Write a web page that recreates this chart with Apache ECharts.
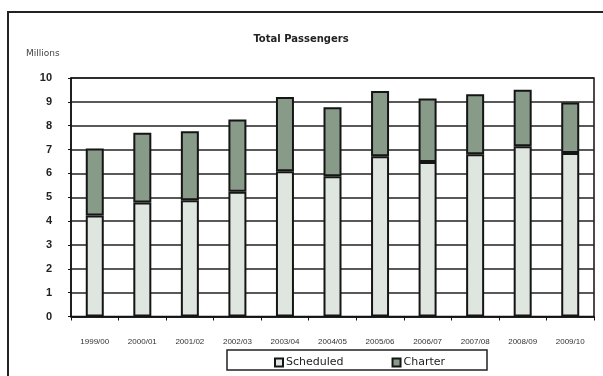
<!DOCTYPE html>
<html>
<head>
<meta charset="utf-8">
<script src="https://cdn.jsdelivr.net/npm/echarts@6/dist/echarts.min.js"></script>
<style>html,body{margin:0;padding:0;background:#fff}#c{width:603px;height:376px}</style>
</head>
<body>
<div id="c"></div>
<script>
const categories = ['1999/00','2000/01','2001/02','2002/03','2003/04','2004/05','2005/06','2006/07','2007/08','2008/09','2009/10'];
const scheduled = [4.24, 4.78, 4.87, 5.23, 6.09, 5.88, 6.72, 6.48, 6.80, 7.14, 6.86];
const charter = [2.80, 2.92, 2.90, 3.03, 3.11, 2.89, 2.74, 2.66, 2.52, 2.37, 2.11];
const yTicks = [0,1,2,3,4,5,6,7,8,9,10];

const chart = echarts.init(document.getElementById('c'), null, {renderer:'canvas'});
const font = '"Liberation Sans", Arial, sans-serif';
const wide = '"DejaVu Sans", sans-serif';
chart.setOption({
  animation: false,
  backgroundColor: '#fff',
  title: {
    text: 'Total Passengers', left: 296, top: 29, textAlign: 'center',
    textStyle: {fontFamily: wide, fontSize: 10, fontWeight: 'bold', color: '#222'}
  },
  legend: {
    left: 269, top: 352, itemWidth: 8, itemHeight: 8, itemGap: 48, icon: 'rect',
    textStyle: {fontFamily: wide, fontSize: 11, color: '#222', padding:[0,0,0,-2]},
    data: ['Scheduled','Charter']
  },
  grid: {left: 71, top: 78, right: 9, bottom: 59.5, show: true, borderColor: '#111', borderWidth: 1.5, containLabel: false},
  xAxis: {
    type: 'category', data: categories,
    axisLine: {show: true, lineStyle: {color: '#111', width: 1.5}},
    axisTick: {show: true, length: 4, lineStyle: {color: '#111'}},
    axisLabel: {fontFamily: font, fontSize: 8, color: '#333', margin: 21}
  },
  yAxis: {
    type: 'value', min: yTicks[0], max: yTicks[yTicks.length-1], interval: 1,
    axisLine: {show: true, lineStyle: {color: '#111', width: 1.5}},
    axisTick: {show: true, length: 3, lineStyle: {color: '#111'}},
    splitLine: {lineStyle: {color: '#222', width: 1.5}},
    axisLabel: {fontFamily: font, fontSize: 11, fontWeight: 'bold', color: '#222', margin: 19}
  },
  series: [
    {name: 'Scheduled', type: 'bar', stack: 't', data: scheduled, barWidth: 18,
     itemStyle: {color: '#dfe5df', borderColor: '#151515', borderWidth: 2}},
    {name: 'Charter', type: 'bar', stack: 't', data: charter, barWidth: 18,
     itemStyle: {color: '#889a88', borderColor: '#151515', borderWidth: 2}}
  ],
  graphic: [
    {type: 'polyline', shape: {points: [[8,376],[8,12],[603,12]]}, style: {stroke: '#222', lineWidth: 2, fill: null}},
    {type: 'rect', shape: {x: 227, y: 350, width: 260, height: 20}, style: {stroke: '#222', lineWidth: 1.5, fill: null}, z: 1},
    {type: 'text', left: 26, top: 49, style: {text: 'Millions', font: '9px ' + wide, fill: '#444'}}
  ]
});
</script>
</body>
</html>
